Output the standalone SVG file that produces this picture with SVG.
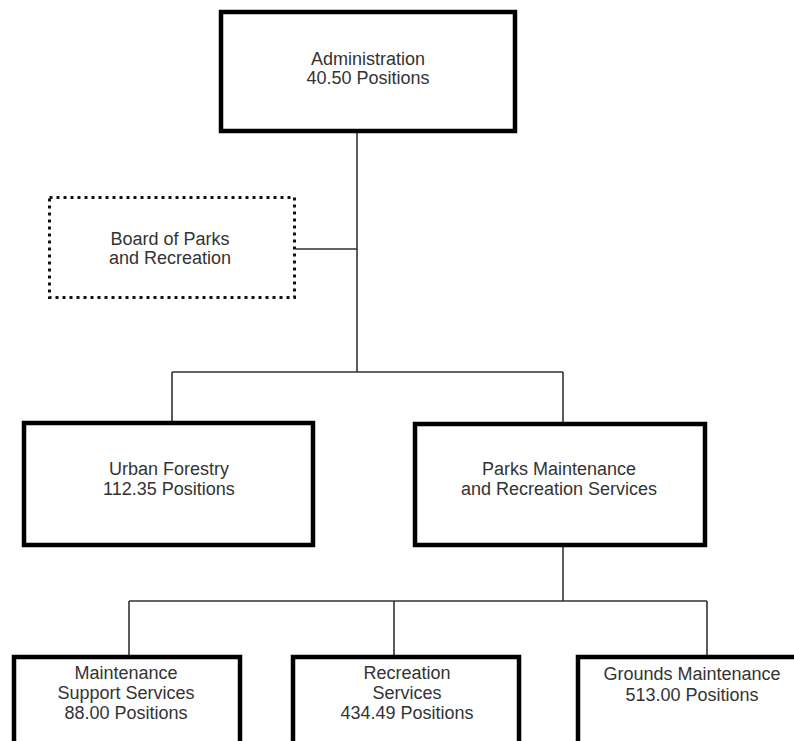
<svg xmlns="http://www.w3.org/2000/svg" width="794" height="741" viewBox="0 0 794 741">
<style>
.box{fill:#fff;stroke:#000;stroke-width:4.5}
.dot{fill:#fff;stroke:#111;stroke-width:3;stroke-dasharray:3 4}
.ln{fill:none;stroke:#333;stroke-width:1.6}
text{font-family:"Liberation Sans",Arial,sans-serif;font-size:18px;fill:#333;text-anchor:middle}
</style>
<rect width="794" height="741" fill="#fff"/>
<g id="connectors">
<path class="ln" d="M357 133V372M296 249H357M172 372H563M172 372V421M563 372V422M563 547V601M129 601H707M129 601V655M394 601V655M707 601V655"/>
</g>
<g id="administration">
<rect class="box" x="221" y="12" width="294" height="119"/>
<text x="368" y="65">Administration</text>
<text x="368" y="84">40.50 Positions</text>
</g>
<g id="board">
<rect class="dot" x="49.5" y="197.5" width="245" height="100"/>
<text x="170" y="245">Board of Parks</text>
<text x="170" y="264">and Recreation</text>
</g>
<g id="urban-forestry">
<rect class="box" x="24" y="423" width="289" height="122"/>
<text x="169" y="475">Urban Forestry</text>
<text x="169" y="495">112.35 Positions</text>
</g>
<g id="parks-maintenance">
<rect class="box" x="415" y="424" width="290" height="121"/>
<text x="559" y="475">Parks Maintenance</text>
<text x="559" y="495">and Recreation Services</text>
</g>
<g id="maintenance-support">
<rect class="box" x="14" y="657" width="226" height="100"/>
<text x="126" y="679">Maintenance</text>
<text x="126" y="699">Support Services</text>
<text x="126" y="719">88.00 Positions</text>
</g>
<g id="recreation-services">
<rect class="box" x="293" y="657" width="226" height="100"/>
<text x="407" y="679">Recreation</text>
<text x="407" y="699">Services</text>
<text x="407" y="719">434.49 Positions</text>
</g>
<g id="grounds-maintenance">
<rect class="box" x="578" y="657" width="230" height="100"/>
<text x="692" y="680">Grounds Maintenance</text>
<text x="692" y="701">513.00 Positions</text>
</g>
</svg>
